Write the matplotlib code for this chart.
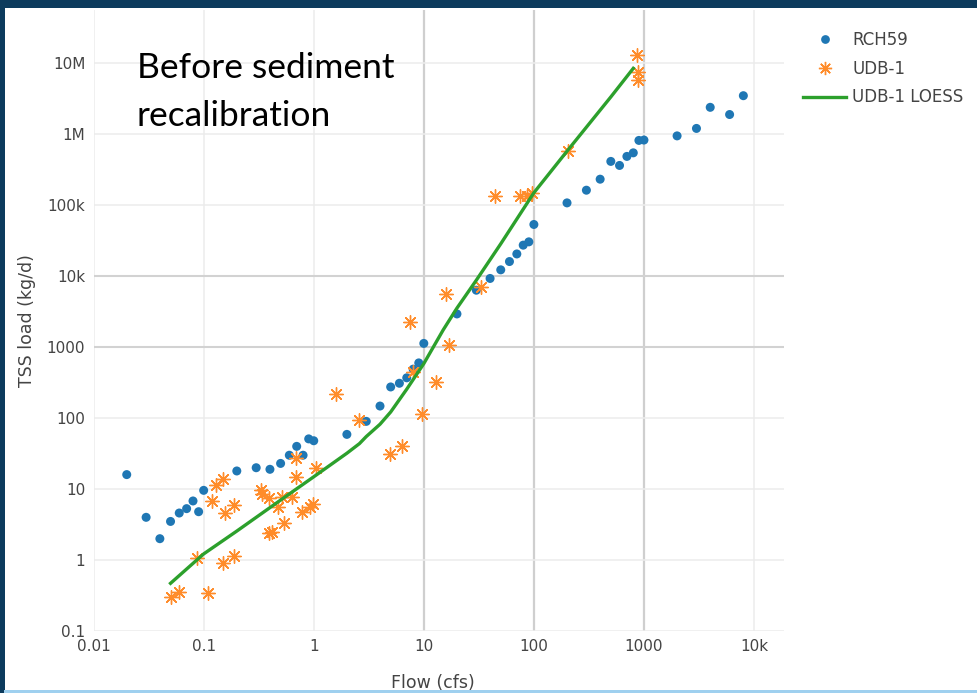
import numpy as np
import matplotlib.pyplot as plt
from matplotlib.patches import Rectangle
from matplotlib.lines import Line2D

# RCH59 model output
rch_flow = [0.02, 0.03, 0.04, 0.05, 0.06, 0.07, 0.08, 0.09, 0.1,
            0.2, 0.3, 0.4, 0.5, 0.6, 0.7, 0.8, 0.9, 1,
            2, 3, 4, 5, 6, 7, 8, 9, 10,
            20, 30, 40, 50, 60, 70, 80, 90, 100,
            200, 300, 400, 500, 600, 700, 800, 900, 1000,
            2000, 3000, 4000, 6000, 8000]
rch_load = [16, 4, 2, 3.5, 4.6, 5.3, 6.8, 4.8, 9.6,
            18, 20, 19, 23, 30, 40, 30, 51, 48,
            59, 90, 148, 275, 310, 370, 490, 600, 1130,
            2940, 6350, 9300, 12300, 16100, 20600, 27400, 30500, 53600,
            108000, 163000, 233000, 415000, 364000, 488000, 548000, 820000, 830000,
            950000, 1.21e6, 2.4e6, 1.9e6, 3.5e6]

# UDB-1 observations
udb_flow = [0.05, 0.06, 0.087, 0.11, 0.12, 0.13, 0.15, 0.155, 0.15, 0.19,
            0.19, 0.33, 0.34, 0.39, 0.47, 0.51, 0.39, 0.42, 0.54, 0.63,
            0.69, 0.69, 0.78, 0.92, 0.99, 1.05, 1.6, 2.6, 4.9, 6.4,
            7.5, 8.0, 9.6, 13, 16, 17, 33, 44, 75, 87,
            97, 203, 860, 880, 880]
udb_load = [0.30, 0.35, 1.06, 0.34, 6.9, 11.6, 13.7, 4.6, 0.9, 6.0,
            1.13, 9.6, 8.4, 7.5, 5.6, 7.7, 2.4, 2.5, 3.3, 7.7,
            27, 15, 4.7, 5.6, 6.1, 20, 220, 93, 31, 40,
            2270, 450, 116, 320, 5600, 1060, 7000, 136000, 136000, 136000,
            147000, 585000, 1.3e7, 7.6e6, 5.9e6]

# UDB-1 LOESS fit
loess_flow = [0.05, 0.1, 0.2, 0.5, 0.7, 1, 1.4, 2, 2.6, 3,
              4, 5, 7, 10, 15, 20, 30, 50, 100, 200, 500, 800]
loess_load = [0.47, 1.22, 2.56, 7.0, 10.1, 14.9, 21.6, 32, 43.7, 55,
              82, 122, 256, 587, 1750, 3550, 8790, 28600, 150000, 578000, 3.36e6, 8.5e6]

x_ticks = [0.01, 0.1, 1, 10, 100, 1000, 10000]
x_labels = ['0.01', '0.1', '1', '10', '100', '1000', '10k']
y_ticks = [0.1, 1, 10, 100, 1000, 1e4, 1e5, 1e6, 1e7]
y_labels = ['0.1', '1', '10', '100', '1000', '10k', '100k', '1M', '10M']

W, H = 978, 693
fig = plt.figure(figsize=(W / 100, H / 100), dpi=100)
fig.patch.set_facecolor('#0c3b5d')

# white slide panel and light blue strip at the bottom
fig.add_artist(Rectangle((4.5 / W, 3 / H), 1, (690 - 8) / H, transform=fig.transFigure,
                         facecolor='white', edgecolor='none', zorder=-2))
fig.add_artist(Rectangle((4 / W, 0), 1, 3 / H, transform=fig.transFigure,
                         facecolor='#9fd0ef', edgecolor='none', zorder=-2))

left, right, top, bottom = 93.6, 784, 10, 631
ax = fig.add_axes([left / W, 1 - bottom / H, (right - left) / W, (bottom - top) / H])
ax.set_facecolor('none')
ax.set_xscale('log')
ax.set_yscale('log')
ax.set_xlim(0.01, 10 ** (-2 + (right - left) / 110.07))
ax.set_ylim(0.1, 10 ** (7 + (63.3 - top) / 70.9))

for v in x_ticks:
    dark = v in (10, 100, 1000)
    ax.axvline(v, color='#cfcfcf' if dark else '#ececec', lw=1.6 if dark else 1.1, zorder=0)
for v in y_ticks:
    dark = v in (1000, 1e4)
    ax.axhline(v, color='#d2d2d2' if dark else '#ececec', lw=1.5 if dark else 1.1, zorder=0)

ax.scatter(rch_flow, rch_load, s=42, color='#1f77b4', edgecolors='none', zorder=3)
ax.scatter(udb_flow, udb_load, s=95, marker=(8, 2, 0), color='#ff8c2a',
           linewidths=1.0, zorder=4)
ax.plot(loess_flow, loess_load, color='#2ca02c', lw=2.4, zorder=5)

ax.set_xticks(x_ticks)
ax.set_xticklabels(x_labels)
ax.set_yticks(y_ticks)
ax.set_yticklabels(y_labels)
ax.minorticks_off()
ax.tick_params(length=0, labelsize=11, labelcolor='#444444', pad=6)
for s in ax.spines.values():
    s.set_visible(False)

fig.text(433 / W, 1 - 683 / H, 'Flow (cfs)', fontsize=12.5, color='#444444',
         ha='center', va='center')
ax.set_ylabel('TSS load (kg/d)', fontsize=12.5, color='#444444', labelpad=8)

fig.text(137 / W, 1 - 78 / H, 'Before sediment', fontsize=25.5, family='Lato',
         color='black', va='baseline')
fig.text(137 / W, 1 - 126 / H, 'recalibration', fontsize=25.5, family='Lato',
         color='black', va='baseline')

handles = [Line2D([], [], ls='none', marker='o', ms=6.3, color='#1f77b4', mec='none'),
           Line2D([], [], ls='none', marker=(8, 2, 0), ms=9.5, color='#ff8c2a', mew=1.0),
           Line2D([], [], color='#2ca02c', lw=2.4)]
fig.legend(handles, ['RCH59', 'UDB-1', 'UDB-1 LOESS'], loc='upper left',
           bbox_to_anchor=(803 / W, 1 - 31 / H), frameon=False, fontsize=12,
           labelcolor='#444444', handlelength=2.6, handletextpad=0.35,
           labelspacing=0.64, borderpad=0, borderaxespad=0)

fig.savefig('out.png', dpi=100, facecolor=fig.get_facecolor())
